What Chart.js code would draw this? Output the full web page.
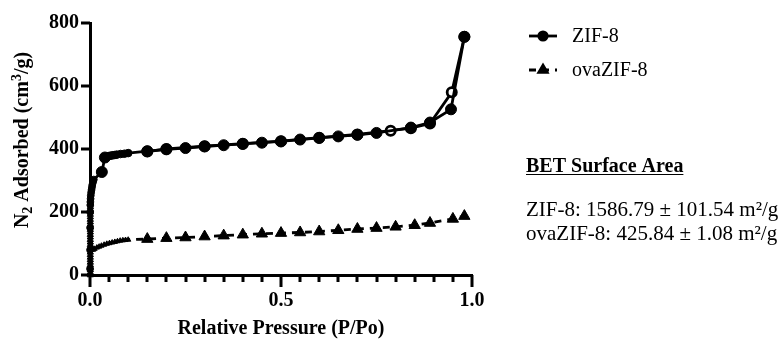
<!DOCTYPE html>
<html>
<head>
<meta charset="utf-8">
<script src="https://cdn.jsdelivr.net/npm/chart.js@4.4.0/dist/chart.umd.min.js"></script>
<style>
html,body{margin:0;padding:0;background:#fff;}
#wrap{width:781px;height:341px;position:relative;}
</style>
</head>
<body>
<div id="wrap"><canvas id="c" width="781" height="341"></canvas></div>
<script>
// ---- data ----
const zifAdsX = [0.0001,0.0002,0.0003,0.0005,0.0008,0.001,0.0015,0.002,0.003,0.004,0.005,0.006,0.008,0.01,0.031,0.039,0.045,0.05,0.055,0.06,0.065,0.07,0.08,0.09,0.1,0.15,0.2,0.25,0.3,0.35,0.4,0.45,0.5,0.55,0.6,0.65,0.7,0.75,0.84,0.89,0.945,0.98];
const zifAdsY = [20,80,150,200,222,232,242,252,262,270,278,286,295,303,327,373,376,378,379,380,381,382,384,385,387,393,399,403,408,412,416,420,424,430,435,440,445,451,468,484,526,756];
const zifDesX = [0.98,0.947,0.89,0.84,0.787,0.7,0.6,0.5,0.4,0.3,0.2,0.15];
const zifDesY = [756,580,481,466,458,446,436,425,417,409,400,392];
const ovaX = [0.0008,0.0008,0.0008,0.0008,0.0008,0.0008,0.0008,0.0008,0.0008,0.0008,0.0008,0.0008,0.0008,0.0008,0.0008,0.0008,0.0008,0.0008,0.0008,0.0008,0.0008,0.0008,0.0008,0.0008,0.0008,0.0008,0.0008,0.001,0.004,0.008,0.012,0.018,0.024,0.03,0.037,0.044,0.051,0.058,0.065,0.072,0.079,0.086,0.093,0.1,0.15,0.2,0.25,0.3,0.35,0.4,0.45,0.5,0.55,0.6,0.65,0.7,0.75,0.8,0.85,0.89,0.95,0.98];
const ovaY = [0,8,16,24,32,40,48,56,64,72,80,88,96,104,112,120,128,136,144,152,160,168,176,184,192,200,208,216,90,80,83,87,90,93,96,99,101,103,105,107,109,110,111,112,114,117,119,122,125,128,131,133,135,138,142,146,149,153,158,165,178,187];
const seriesNames = ['ZIF-8','ovaZIF-8'];
const yTicks = [0,200,400,600,800];
const xTickLabels = ['0.0','0.5','1.0'];
const yTitleParts = ['N','2',' Adsorbed (cm','3','/g)'];
const betTitle = 'BET Surface Area';
const betLines = ['ZIF-8: 1586.79 \u00B1 101.54 m\u00B2/g','ovaZIF-8: 425.84 \u00B1 1.08 m\u00B2/g'];
const xTitle = 'Relative Pressure (P/Po)';

const FONT = "'Liberation Serif','Times New Roman',serif";
const toPts = (xs, ys) => xs.map((x,i)=>({x:x,y:ys[i]}));

const zifRadius = ctx => { const v = ctx.raw ? ctx.raw.x : 1; if (v < 0.02) return 3.4; if (v > 0.042 && v < 0.12) return 3.8; return 5.5; };
const ovaRadius = ctx => { const v = ctx.raw ? ctx.raw.x : 1; return v < 0.003 ? 3.6 : (v < 0.12 ? 3 : 6.5); };

const overlay = {
  id:'overlay',
  afterDraw(chart){
    const ctx = chart.ctx, xs = chart.scales.x, ys = chart.scales.y;
    ctx.save();
    ctx.setLineDash([]);
    ctx.fillStyle = '#000';
    // x ticks (major and minor)
    const y0 = Math.round(ys.getPixelForValue(0));
    const x0 = Math.round(xs.getPixelForValue(0));
    for (let i = 0; i <= 20; i++) {
      const px = Math.round(xs.getPixelForValue(i * 0.05));
      const len = (i % 10 === 0) ? 12 : 7;
      ctx.fillRect(px - 1.5, y0, 3, len);
    }
    // y ticks
    yTicks.forEach(v => { const py = Math.round(ys.getPixelForValue(v)); ctx.fillRect(x0 - 9, py - 1.5, 9, 3); });
    // y title
    ctx.translate(22, 140); ctx.rotate(-Math.PI/2);
    const big = 'bold 20px ' + FONT, small = 'bold 14px ' + FONT;
    const widths = yTitleParts.map((t,i)=>{ ctx.font = (i===1||i===3)?small:big; return ctx.measureText(t).width; });
    const total = widths.reduce((a,b)=>a+b,0);
    let cx = -total/2;
    ctx.textBaseline = 'alphabetic'; ctx.textAlign = 'left';
    yTitleParts.forEach((t,i)=>{
      ctx.font = (i===1||i===3)?small:big;
      const dy = i===1 ? 4 : (i===3 ? -7 : 0);
      ctx.fillText(t, cx, 6 + dy);
      cx += widths[i];
    });
    ctx.setTransform(1,0,0,1,0,0);
    // legend
    const ds = chart.data.datasets;
    const legY = [36, 70];
    [0,2].forEach((di,k)=>{
      const d = ds[di]; const y = legY[k];
      ctx.strokeStyle = '#000'; ctx.lineWidth = 2.8;
      ctx.setLineDash(d.borderDash || []);
      ctx.beginPath(); ctx.moveTo(529, y); ctx.lineTo(557, y); ctx.stroke();
      ctx.setLineDash([]);
      ctx.fillStyle = '#000';
      Chart.helpers.drawPoint(ctx, {pointStyle: d.pointStyle, radius: k===0?4.2:4.8, rotation:0, borderWidth:1}, 543, y);
      ctx.font = '20px ' + FONT; ctx.textBaseline = 'middle'; ctx.textAlign = 'left';
      ctx.fillText(seriesNames[k], 572, y + 1);
    });
    // BET text
    ctx.textBaseline = 'alphabetic';
    ctx.font = 'bold 20px ' + FONT;
    ctx.fillText(betTitle, 526, 172);
    const w = ctx.measureText(betTitle).width;
    ctx.lineWidth = 1.2; ctx.beginPath(); ctx.moveTo(526, 174.5); ctx.lineTo(526 + w, 174.5); ctx.stroke();
    ctx.font = '21px ' + FONT;
    ctx.fillText(betLines[0], 526, 216);
    ctx.fillText(betLines[1], 526, 240);
    ctx.restore();
  }
};

new Chart(document.getElementById('c'), {
  type: 'line',
  data: {
    datasets: [
      { label: seriesNames[0], data: toPts(zifAdsX, zifAdsY), borderColor:'#000', backgroundColor:'#000', borderWidth:2.8,
        pointStyle:'circle', pointRadius: zifRadius, pointBackgroundColor:'#000', pointBorderColor:'#000', pointBorderWidth:1, clip:false, order:1 },
      { label: seriesNames[0] + ' des', data: toPts(zifDesX, zifDesY), borderColor:'#000', backgroundColor:'#fff', borderWidth:2.8,
        pointStyle:'circle', pointRadius: 4.6, pointBackgroundColor:'#fff', pointBorderColor:'#000', pointBorderWidth:2.8, clip:false, order:2 },
      { label: seriesNames[1], data: toPts(ovaX, ovaY), borderColor:'#000', backgroundColor:'#000', borderWidth:2.8, borderDash:[7,6],
        pointStyle:'triangle', pointRadius: ovaRadius, pointBackgroundColor:'#000', pointBorderColor:'#000', pointBorderWidth:1, clip:false, order:3 }
    ]
  },
  options: {
    responsive:false, animation:false,
    layout:{ padding:{ left:0, right:309, top:20, bottom:0 } },
    plugins:{ legend:{display:false}, tooltip:{enabled:false} },
    elements:{ line:{ tension:0 } },
    scales:{
      x:{ type:'linear', min:0, max:1, afterBuildTicks: s => { s.ticks = [0,0.5,1].map(v=>({value:v})); },
        grid:{ display:false, drawTicks:false }, border:{ display:true, color:'#000', width:3 },
        ticks:{ color:'#000', font:{ family:FONT, weight:'bold', size:20 }, padding:14, maxRotation:0, autoSkip:false,
          callback:(v,i)=> xTickLabels[i] },
        title:{ display:true, text:xTitle, color:'#000', font:{ family:FONT, weight:'bold', size:20 }, padding:{top:6,bottom:0} },
        afterFit: s => { s.height = 66; } },
      y:{ type:'linear', min:0, max:800, afterBuildTicks: s => { s.ticks = yTicks.map(v=>({value:v})); },
        grid:{ display:false, drawTicks:false },
        border:{ display:true, color:'#000', width:3 },
        ticks:{ color:'#000', font:{ family:FONT, weight:'bold', size:20 }, padding:11 },
        afterFit: s => { s.width = 90; } }
    }
  },
  plugins:[overlay]
});
</script>
</body>
</html>
